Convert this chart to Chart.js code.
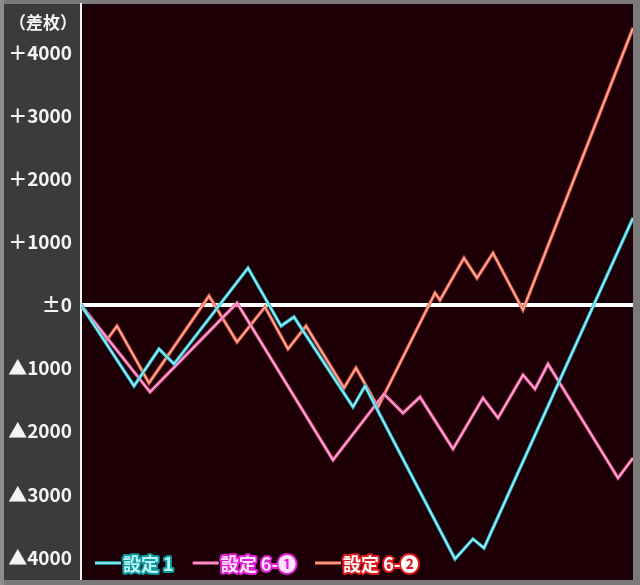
<!DOCTYPE html>
<html>
<head>
<meta charset="utf-8">
<script src="https://cdn.jsdelivr.net/npm/chart.js@4/dist/chart.umd.min.js"></script>
<style>
  html, body { margin: 0; padding: 0; background: #7c7c7c; }
  canvas { display: block; }
</style>
</head>
<body>
<canvas id="myChart" width="640" height="585"></canvas>
<script>
// series data (x = progress along the run, y = 差枚)
var settei1X = [0, 53, 78, 93, 167, 200, 213, 272, 284, 374, 392, 403, 552];
var settei1Y = [0, -1284, -697, -935, 586, -333, -190, -1616, -1284, -4025, -3708, -3851, 1379];

var settei6aX = [0, 69, 156, 252, 303, 322, 339, 372, 402, 417, 442, 454, 467, 537, 552];
var settei6aY = [0, -1379, 32, -2456, -1410, -1712, -1458, -2282, -1474, -1791, -1109, -1331, -935, -2742, -2425];

var settei6bX = [0, 25, 36, 68, 128, 156, 184, 207, 225, 263, 275, 297, 354, 359, 383, 396, 412, 442, 552];
var settei6bY = [0, -571, -333, -1236, 143, -586, -32, -697, -333, -1315, -998, -1616, 190, 79, 745, 428, 824, -79, 4390];

var seriesLabels = ['設定 1', '設定 6-❶', '設定 6-❷'];

var yTickValues = [4000, 3000, 2000, 1000, 0, -1000, -2000, -3000, -4000];
var yTickLabels = ['＋4000', '＋3000', '＋2000', '＋1000', '±0', '▲1000', '▲2000', '▲3000', '▲4000'];

window.onload = function () {
    var styles = [
        { outer: '#2cc3d6', inner: '#c6f5fa', text: '#b8f6f6', edge: '#10979e' },
        { outer: '#e6589a', inner: '#ffc6e2', text: '#ffe2ff', edge: '#e01cd6' },
        { outer: '#e8604c', inner: '#ffc4b2', text: '#ffffff', edge: '#e0181c' }
    ];

    function toPoints(xs, ys) {
        var pts = [];
        for (var i = 0; i < xs.length; i++) {
            pts.push({ x: xs[i], y: ys[i] });
        }
        return pts;
    }

    var allData = [
        toPoints(settei1X, settei1Y),
        toPoints(settei6aX, settei6aY),
        toPoints(settei6bX, settei6bY)
    ];

    // each series is drawn twice: a wider coloured line and a light core
    var datasets = [];
    for (var s = 0; s < 3; s++) {
        datasets.push({
            label: seriesLabels[s],
            data: allData[s],
            borderColor: styles[s].outer,
            borderWidth: 3.4,
            order: 2 * s + 1
        });
        datasets.push({
            label: seriesLabels[s] + ' core',
            data: allData[s],
            borderColor: styles[s].inner,
            borderWidth: 1.1,
            order: 2 * s
        });
    }

    var framePlugin = {
        id: 'frame',
        beforeDraw: function (chart) {
            var c = chart.ctx;
            var a = chart.chartArea;
            c.save();
            c.fillStyle = '#7a7a7a';
            c.fillRect(0, 0, chart.width, chart.height);
            c.fillStyle = '#8e8e8e';
            c.fillRect(0, 0, 4, chart.height);
            c.fillStyle = '#3d3b3a';
            c.fillRect(4, a.top, a.left - 4, a.bottom - a.top);
            c.fillStyle = '#1c0006';
            c.fillRect(a.left, a.top, a.right - a.left, a.bottom - a.top);

            c.fillStyle = '#f4f4f4';
            c.font = 'bold 17px "Noto Sans CJK JP", sans-serif';
            c.textAlign = 'center';
            c.textBaseline = 'middle';
            c.fillText('（差枚）', 43, 23);
            c.restore();
        },
        afterDatasetsDraw: function (chart) {
            var c = chart.ctx;
            var x = 95;
            var y = 563;
            c.save();
            c.font = 'bold 18px "Noto Sans CJK JP", sans-serif';
            c.textBaseline = 'middle';
            c.textAlign = 'left';
            c.lineJoin = 'round';
            for (var s = 0; s < 3; s++) {
                c.lineCap = 'butt';
                c.strokeStyle = styles[s].outer;
                c.lineWidth = 3.4;
                c.beginPath(); c.moveTo(x, y); c.lineTo(x + 26, y); c.stroke();
                c.strokeStyle = styles[s].inner;
                c.lineWidth = 1.1;
                c.beginPath(); c.moveTo(x, y); c.lineTo(x + 26, y); c.stroke();
                x += 28;
                c.strokeStyle = styles[s].edge;
                c.lineWidth = 4;
                c.strokeText(seriesLabels[s], x, y + 1);
                c.fillStyle = styles[s].text;
                c.fillText(seriesLabels[s], x, y + 1);
                x += c.measureText(seriesLabels[s]).width + 19;
            }
            c.restore();
        }
    };

    var ctx = document.getElementById('myChart').getContext('2d');
    var myChart = new Chart(ctx, {
        type: 'line',
        data: { datasets: datasets },
        options: {
            responsive: false,
            animation: false,
            layout: { padding: { top: 4, right: 7, bottom: 5, left: 4 } },
            elements: {
                line: { tension: 0, fill: false, borderJoinStyle: 'miter' },
                point: { radius: 0 }
            },
            plugins: {
                legend: { display: false },
                tooltip: { enabled: false }
            },
            scales: {
                x: {
                    type: 'linear',
                    display: false,
                    min: 0,
                    max: 552
                },
                y: {
                    type: 'linear',
                    min: -4358,
                    max: 4770,
                    afterBuildTicks: function (scale) {
                        scale.ticks = yTickValues.map(function (v) { return { value: v }; });
                    },
                    afterFit: function (scale) {
                        scale.width = 77;
                        scale.paddingTop = 0;
                        scale.paddingBottom = 0;
                    },
                    border: { display: true, color: '#f2f2f2', width: 2 },
                    grid: {
                        drawTicks: false,
                        color: function (c) { return c.tick && c.tick.value === 0 ? '#ffffff' : 'rgba(0,0,0,0)'; },
                        lineWidth: function (c) { return c.tick && c.tick.value === 0 ? 4 : 0; }
                    },
                    ticks: {
                        padding: 9,
                        color: '#f4f4f4',
                        font: { family: '"Noto Sans CJK JP", "Liberation Sans", sans-serif', size: 19, weight: 'bold' },
                        callback: function (value) {
                            var i = yTickValues.indexOf(value);
                            return i >= 0 ? yTickLabels[i] : '';
                        }
                    }
                }
            }
        },
        plugins: [framePlugin]
    });
};
</script>
</body>
</html>
